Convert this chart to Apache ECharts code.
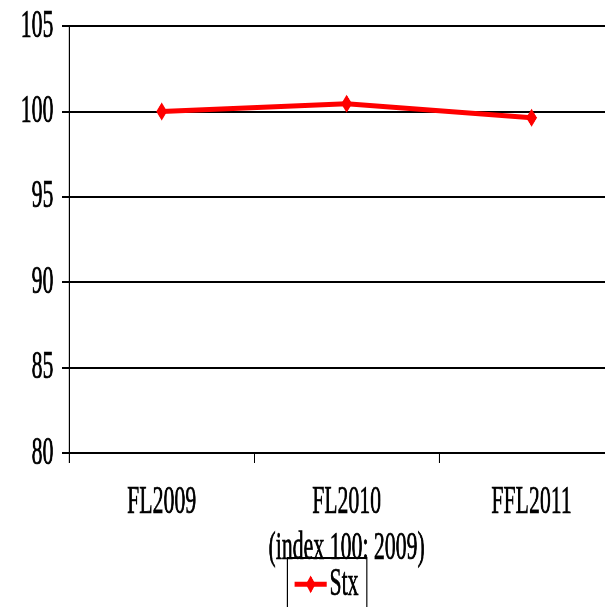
<!DOCTYPE html>
<html>
<head>
<meta charset="utf-8">
<script src="https://cdn.jsdelivr.net/npm/echarts@6/dist/echarts.min.js"></script>
<style>
html,body{margin:0;padding:0;background:#fff;overflow:hidden;width:605px;height:607px;}
#chart{width:1145px;height:607px;transform:scaleX(0.545);transform-origin:0 0;}
</style>
</head>
<body>
<div id="chart"></div>
<script>
var categories = ['FL2009', 'FL2010\n(index 100: 2009)', 'FFL2011'];
var seriesName = 'Stx';
var stxValues = [100, 100.45, 99.63];
var yMin = 80, yMax = 105, yStep = 5;

var FONT = 'Liberation Serif';
var textBase = {color: '#000', fontFamily: FONT, fontSize: 40, textBorderColor: '#000', textBorderWidth: 0.7};
var chart = echarts.init(document.getElementById('chart'), null, {renderer: 'canvas'});
chart.setOption({
  animation: false,
  backgroundColor: '#fff',
  grid: {left: 127, right: 0, top: 26, bottom: 154, containLabel: false},
  xAxis: {
    type: 'category',
    data: categories,
    boundaryGap: true,
    axisLine: {show: true, lineStyle: {color: '#000', width: 2}},
    axisTick: {show: true, alignWithLabel: false, length: 10, lineStyle: {color: '#000', width: 2}},
    axisLabel: Object.assign({}, textBase, {lineHeight: 46, margin: 26, interval: 0}),
    splitLine: {show: false}
  },
  yAxis: {
    type: 'value',
    min: yMin, max: yMax, interval: yStep,
    axisLine: {show: true, lineStyle: {color: '#000', width: 2}},
    axisTick: {show: true, inside: false, length: 13, lineStyle: {color: '#000', width: 2}},
    axisLabel: Object.assign({}, textBase, {margin: 29}),
    splitLine: {show: true, lineStyle: {color: '#000', width: 2}}
  },
  legend: {
    show: true,
    data: [seriesName],
    left: 527, top: 558,
    padding: [6, 15, 8, 11],
    borderColor: '#000', borderWidth: 2,
    itemWidth: 59, itemHeight: 22,
    itemStyle: {color: '#ff0000'},
    lineStyle: {color: '#ff0000', width: 5},
    textStyle: Object.assign({}, textBase)
  },
  series: [{
    name: seriesName,
    type: 'line',
    data: stxValues,
    symbol: 'diamond',
    symbolSize: [20, 18],
    itemStyle: {color: '#ff0000'},
    lineStyle: {color: '#ff0000', width: 5}
  }]
});
</script>
</body>
</html>
